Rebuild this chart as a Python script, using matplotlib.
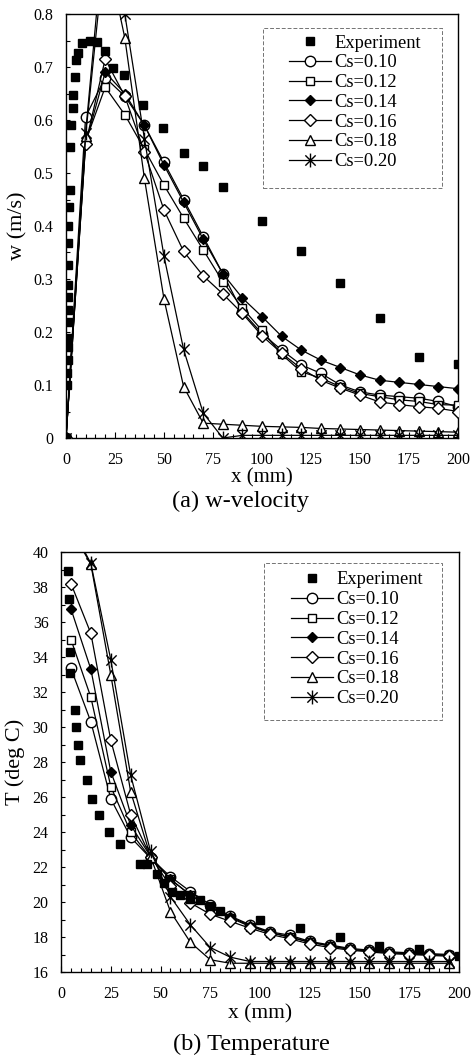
import numpy as np
import matplotlib
matplotlib.use("Agg")
import matplotlib.pyplot as plt
from matplotlib.path import Path
from matplotlib.patches import Rectangle

plt.rcParams['font.family'] = ['Liberation Serif', 'DejaVu Serif']
plt.rcParams['mathtext.fontset'] = 'stix'

# ---------------- (a) w-velocity ----------------
exp_x_w = [0, 0.5, 0.5, 1.0, 0.8, 1.0, 1.2, 1.0, 0.8, 0.8, 1.0, 1.0, 1.0, 1.5, 2.0,
           2.0, 2.5, 3.4, 3.4, 4.6, 5.0, 6.3, 8.0, 12.0, 15.6, 20.0, 24.0, 29.5,
           39.5, 49.7, 60.0, 70.0, 80.0, 100.0, 120.0, 140.0, 160.0, 180.0, 200.0]
exp_w = [0.0, 0.10, 0.123, 0.147, 0.172, 0.189, 0.219, 0.242, 0.266, 0.289, 0.326,
         0.367, 0.40, 0.436, 0.468, 0.55, 0.59, 0.622, 0.647, 0.681, 0.713, 0.726,
         0.745, 0.750, 0.748, 0.731, 0.698, 0.684, 0.628, 0.584, 0.538, 0.513,
         0.474, 0.41, 0.352, 0.292, 0.226, 0.153, 0.14]

sim_x_w = [0, 10, 20, 30, 40, 50, 60, 70, 80, 90, 100,
           110, 120, 130, 140, 150, 160, 170, 180, 190, 200]
w_cs010 = [0, 0.606, 0.68, 0.645, 0.59, 0.52, 0.45, 0.38, 0.31, 0.238, 0.197,
           0.166, 0.138, 0.122, 0.10, 0.087, 0.081, 0.078, 0.075, 0.069, 0.059]
w_cs012 = [0, 0.56, 0.662, 0.61, 0.545, 0.477, 0.415, 0.355, 0.295, 0.245, 0.203,
           0.158, 0.125, 0.113, 0.097, 0.084, 0.078, 0.072, 0.069, 0.063, 0.062]
w_cs014 = [0, 0.555, 0.69, 0.65, 0.59, 0.515, 0.445, 0.375, 0.31, 0.264, 0.229,
           0.192, 0.166, 0.147, 0.133, 0.119, 0.109, 0.105, 0.101, 0.097, 0.093]
w_cs016 = [0, 0.555, 0.715, 0.645, 0.54, 0.43, 0.352, 0.306, 0.272, 0.235, 0.193,
           0.16, 0.131, 0.109, 0.094, 0.081, 0.068, 0.063, 0.059, 0.056, 0.05]
w_cs018 = [0, 0.57, 0.93, 0.755, 0.49, 0.262, 0.097, 0.028, 0.026, 0.024, 0.022,
           0.021, 0.02, 0.018, 0.017, 0.016, 0.015, 0.014, 0.013, 0.012, 0.011]
w_cs020 = [0, 0.575, 0.98, 0.80, 0.565, 0.343, 0.167, 0.047, 0.0, 0.005, 0.005,
           0.005, 0.005, 0.005, 0.005, 0.005, 0.005, 0.005, 0.005, 0.005, 0.005]

# ---------------- (b) Temperature ----------------
exp_x_t = [3.4, 4.0, 4.5, 4.5, 7.0, 7.5, 8.4, 9.5, 12.9, 15.7, 19.0, 24.3, 29.6,
           39.7, 43.0, 48.0, 52.0, 56.0, 60.0, 65.0, 70.0, 75.0, 80.0, 100.0,
           120.0, 140.0, 160.0, 180.0, 200.0]
exp_t = [38.9, 37.3, 34.3, 33.1, 31.0, 30.0, 29.0, 28.1, 27.0, 25.9, 25.0, 24.0,
         23.3, 22.2, 22.2, 21.6, 21.1, 20.6, 20.4, 20.2, 20.1, 19.8, 19.5, 19.0,
         18.5, 18.0, 17.5, 17.3, 16.9]

sim_x_t = [5, 15, 25, 35, 45, 55, 65, 75, 85, 95,
           105, 115, 125, 135, 145, 155, 165, 175, 185, 195]
t_cs010 = [33.35, 30.3, 25.9, 23.7, 22.5, 21.45, 20.6, 19.85, 19.2, 18.7,
           18.3, 18.1, 17.75, 17.55, 17.35, 17.25, 17.15, 17.1, 17.05, 17.0]
t_cs012 = [35.0, 31.7, 26.6, 24.0, 22.5, 21.3, 20.4, 19.7, 19.1, 18.6,
           18.25, 18.0, 17.7, 17.5, 17.3, 17.2, 17.1, 17.05, 17.0, 16.95]
t_cs014 = [36.75, 33.3, 27.45, 24.4, 22.6, 21.3, 20.4, 19.7, 19.15, 18.65,
           18.25, 18.0, 17.7, 17.5, 17.3, 17.2, 17.1, 17.05, 17.0, 16.95]
t_cs016 = [38.2, 35.35, 29.25, 25.0, 22.6, 20.9, 19.95, 19.3, 18.9, 18.5,
           18.15, 17.9, 17.6, 17.4, 17.25, 17.15, 17.05, 17.0, 16.95, 16.9]
t_cs018 = [41.3, 39.3, 33.0, 26.3, 22.6, 19.45, 17.7, 16.7, 16.5, 16.5,
           16.5, 16.5, 16.5, 16.5, 16.5, 16.5, 16.5, 16.5, 16.5, 16.5]
t_cs020 = [41.5, 39.35, 33.85, 27.25, 22.9, 20.3, 18.7, 17.4, 16.85, 16.6,
           16.6, 16.6, 16.6, 16.6, 16.6, 16.6, 16.6, 16.6, 16.6, 16.6]

labels = ['Cs=0.10', 'Cs=0.12', 'Cs=0.14', 'Cs=0.16', 'Cs=0.18', 'Cs=0.20']
x_ticks = [0, 25, 50, 75, 100, 125, 150, 175, 200]

# asterisk marker: an "x" crossed by a vertical bar
star_path = Path([(-1, -1), (1, 1), (-1, 1), (1, -1), (0, -1.35), (0, 1.35)],
                 [Path.MOVETO, Path.LINETO, Path.MOVETO, Path.LINETO,
                  Path.MOVETO, Path.LINETO])

styles = [
    dict(marker='o', ms=7.5, mfc='white'),
    dict(marker='s', ms=5.5, mfc='white'),
    dict(marker='D', ms=5.0, mfc='black'),
    dict(marker='D', ms=6.5, mfc='white'),
    dict(marker='^', ms=6.5, mfc='white'),
    dict(marker=star_path, ms=10, mfc='none'),
]


def draw_panel(ax, sx, series, ex, ey, leg_anchor, box):
    ax.plot(ex, ey, ls='none', marker='s', ms=5.5, color='black',
            mec='black', label='Experiment', zorder=4)
    for ys, lab, st in zip(series, labels, styles):
        ax.plot(sx, ys, color='black', lw=0.9, mec='black', mew=1.0,
                label=lab, zorder=3, **st)
    ax.set_xlim(0, 200)
    ax.set_xticks(x_ticks)
    ax.set_xticks(np.arange(0, 201, 5), minor=True)
    ax.tick_params(axis='both', which='both', direction='in', labelsize=11.5,
                   width=0.8)
    ax.tick_params(axis='x', which='both', pad=10)
    ax.tick_params(axis='y', which='both', pad=9)
    ax.tick_params(axis='x', which='major', length=4)
    ax.tick_params(axis='x', which='minor', length=3)
    ax.tick_params(axis='y', which='both', length=3)
    for sp in ax.spines.values():
        sp.set_linewidth(1.0)
    # dashed legend box
    ax.add_patch(Rectangle(box[:2], box[2], box[3], transform=ax.transAxes,
                           fill=True, facecolor='white', edgecolor='0.45',
                           lw=0.7, ls=(0, (4, 2)), zorder=5))
    leg = ax.legend(loc='upper left', bbox_to_anchor=leg_anchor,
                    fontsize=13.3, numpoints=1, handlelength=2.3,
                    handletextpad=0.17, labelspacing=0.15, borderpad=0,
                    borderaxespad=0, frameon=False)
    leg.set_zorder(6)


fig = plt.figure(figsize=(4.71, 10.6), dpi=100)

ax1 = fig.add_axes([66 / 471, 1 - 438 / 1060, 392 / 471, 424 / 1060])
draw_panel(ax1, sim_x_w, [w_cs010, w_cs012, w_cs014, w_cs016, w_cs018, w_cs020],
           exp_x_w, exp_w, ((289 - 66) / 392, (438 - 34.5) / 424),
           (0.5026, 0.5896, 0.4564, 0.3774))
ax1.set_ylim(0, 0.8)
ax1.set_yticks(np.arange(0, 0.81, 0.1))
ax1.set_yticklabels(['0', '0.1', '0.2', '0.3', '0.4', '0.5', '0.6', '0.7', '0.8'])
ax1.set_yticks(np.arange(0, 0.81, 0.05), minor=True)
ax1.set_ylabel('w (m/s)', fontsize=16)
ax1.yaxis.set_label_coords((18 - 66) / 392, 0.5)
ax1.yaxis.label.set_va('center')
ax1.set_xlabel('x (mm)', fontsize=15)
ax1.xaxis.set_label_coords(0.5, (438 - 478) / 424)
ax1.xaxis.label.set_va('center')
fig.text(241 / 471, 1 - 501 / 1060, '(a) w-velocity', ha='center', va='center',
         fontsize=17.5)

ax2 = fig.add_axes([61 / 471, 1 - 972 / 1060, 398 / 471, 420 / 1060])
draw_panel(ax2, sim_x_t, [t_cs010, t_cs012, t_cs014, t_cs016, t_cs018, t_cs020],
           exp_x_t, exp_t, ((291 - 61) / 398, (972 - 571.5) / 420),
           (0.51, 0.60, 0.447, 0.374))
ax2.set_ylim(16, 40)
ax2.set_yticks(np.arange(16, 41, 2))
ax2.set_yticks(np.arange(16, 41, 1), minor=True)
ax2.set_ylabel('T (deg C)', fontsize=16)
ax2.yaxis.set_label_coords((15 - 61) / 398, 0.5)
ax2.yaxis.label.set_va('center')
ax2.set_xlabel('x (mm)', fontsize=15.5)
ax2.xaxis.set_label_coords(0.5, (972 - 1014) / 420)
ax2.xaxis.label.set_va('center')
fig.text(251 / 471, 1 - 1044 / 1060, '(b) Temperature', ha='center', va='center',
         fontsize=17.5)

fig.savefig('out.png', dpi=100)
